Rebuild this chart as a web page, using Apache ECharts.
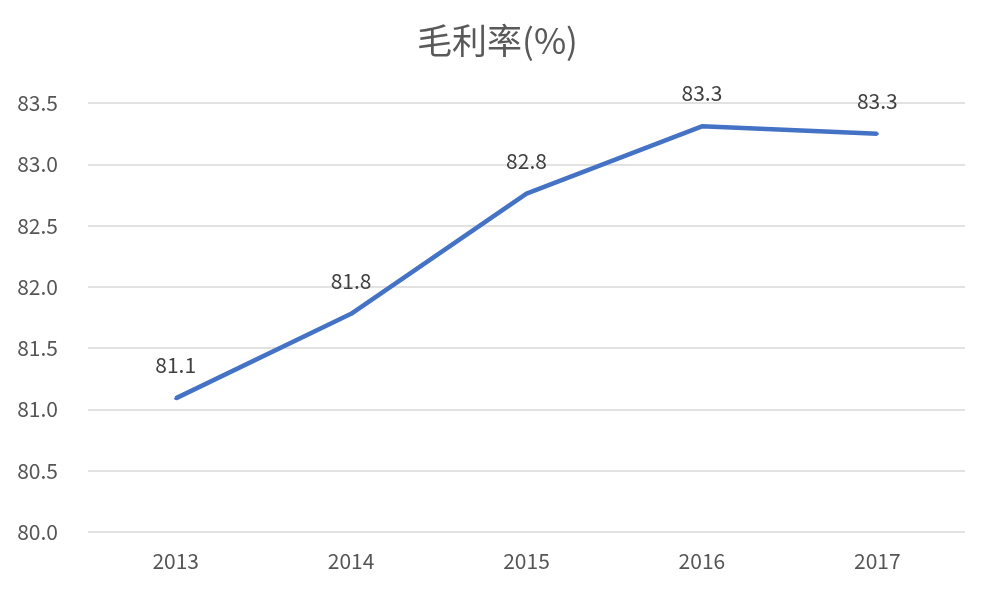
<!DOCTYPE html>
<html>
<head>
<meta charset="utf-8">
<script src="https://cdn.jsdelivr.net/npm/echarts@6/dist/echarts.min.js"></script>
<style>html,body{margin:0;padding:0;background:#fff}#c{width:995px;height:595px}</style>
</head>
<body>
<div id="c"></div>
<script>
const titleText = '毛利率(%)';
const categories = ['2013', '2014', '2015', '2016', '2017'];
const grossMargin = [81.09, 81.78, 82.76, 83.31, 83.25];
const yMin = 80.0, yMax = 83.5, yStep = 0.5;

const chart = echarts.init(document.getElementById('c'));
const font = '"Noto Sans CJK SC", "Noto Sans", sans-serif';
chart.setOption({
  backgroundColor: '#ffffff',
  animation: false,
  title: {
    text: titleText, left: 'center', top: 18,
    textStyle: { fontFamily: font, fontSize: 35, fontWeight: 'normal', color: '#595959' }
  },
  grid: { left: 88, right: 30, top: 103, bottom: 63 },
  xAxis: {
    type: 'category', data: categories, boundaryGap: true,
    axisLine: { show: false }, axisTick: { show: false },
    axisLabel: { fontFamily: font, fontSize: 21, color: '#555555', margin: 19 }
  },
  yAxis: {
    type: 'value', min: yMin, max: yMax, interval: yStep,
    axisLine: { show: false }, axisTick: { show: false },
    axisLabel: { fontFamily: font, fontSize: 21, color: '#555555', margin: 30,
      formatter: v => v.toFixed(1) },
    splitLine: { lineStyle: { color: '#d9d9d9', width: 1.5 } }
  },
  series: [{
    type: 'line', data: grossMargin,
    symbol: 'circle', symbolSize: 3,
    itemStyle: { color: '#4472C4' },
    lineStyle: { color: '#4472C4', width: 4.5 },
    label: { show: true, position: 'top', distance: 21,
      fontFamily: font, fontSize: 21, color: '#404040',
      formatter: p => p.value.toFixed(1) }
  }]
});
</script>
</body>
</html>
